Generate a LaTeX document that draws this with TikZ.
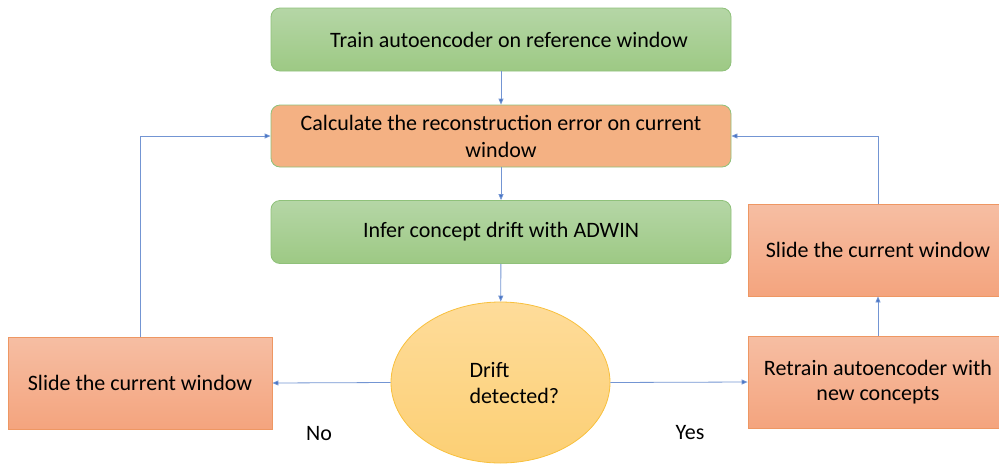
\documentclass[tikz,border=0pt]{standalone}
\usepackage{fontspec}
\setmainfont{Carlito}
\usetikzlibrary{shapes.geometric,arrows.meta}
\definecolor{greenTop}{HTML}{B5D6A6}
\definecolor{greenBot}{HTML}{9DC984}
\definecolor{greenLine}{HTML}{8FC17A}
\definecolor{calcFill}{HTML}{F4B183}
\definecolor{orangeTop}{HTML}{F6BEA3}
\definecolor{orangeBot}{HTML}{F4A47E}
\definecolor{orangeLine}{HTML}{EE9763}
\definecolor{ovalTop}{HTML}{FEDC9A}
\definecolor{ovalBot}{HTML}{FCCF74}
\definecolor{ovalLine}{HTML}{F8C03C}
\definecolor{flow}{HTML}{4472C4}
\tikzset{
  txt/.style={font=\fontsize{22}{27}\selectfont},
  greenbox/.style={txt, draw=greenLine, line width=0.8pt, rounded corners=9pt,
    top color=greenTop, bottom color=greenBot, minimum width=460pt,
    minimum height=63pt, align=center},
  calcbox/.style={txt, draw=greenLine, line width=0.8pt, rounded corners=9pt,
    fill=calcFill, minimum width=460pt, minimum height=62pt, align=center},
  orangebox/.style={font=\fontsize{22}{25.5}\selectfont, draw=orangeLine,
    line width=0.8pt, top color=orangeTop, bottom color=orangeBot,
    minimum height=92pt, align=center},
  oval/.style={ellipse, draw=ovalLine, line width=0.8pt, top color=ovalTop,
    bottom color=ovalBot, minimum width=219pt, minimum height=161pt},
  flowline/.style={draw=flow!75, line width=0.8pt,
    -{Triangle[length=6pt,width=5pt,fill=flow]}},
  lbl/.style={font=\fontsize{22}{26}\selectfont}
}
\begin{document}
\begin{tikzpicture}[x=1pt,y=-1pt]
\useasboundingbox (0,0) rectangle (999,464);
\begin{scope}
\clip (0,0) rectangle (999,464);
\node[greenbox] (train) at (501,39.5) {\hspace*{16pt}Train autoencoder on reference window};
\node[calcbox] (calc) at (501,136) {Calculate the reconstruction error on current\\window};
\node[greenbox] (infer) at (501,232) {Infer concept drift with ADWIN};
\node[oval] (drift) at (500.5,382.5) {};
\node[lbl, align=left, anchor=west] (dlabel) at (466,383) {Drift\\detected?};
\node[orangebox, minimum width=264pt] (slideL) at (140,383) {Slide the current window};
\node[orangebox, minimum width=260pt] (retrain) at (878,382) {Retrain autoencoder with\\new concepts};
\node[orangebox, minimum width=260pt] (slideR) at (878,250) {Slide the current window};
\end{scope}
\node[lbl] (no) at (319,434) {No};
\node[lbl] (yes) at (690,433) {Yes};
\coordinate (leftTurn) at (slideL.north |- calc.west);
\coordinate (rightTurn) at (slideR.north |- calc.east);
\draw[flowline] (train) -- (calc);
\draw[flowline] (calc) -- (infer);
\draw[flowline] (infer) -- (drift);
\draw[flowline] (drift.west) -- (slideL.east);
\draw[flowline] (drift.east) -- (retrain.west);
\draw[flowline] (retrain) -- (slideR);
\draw[flowline] (slideR.north) -- (rightTurn) -- (calc.east);
\draw[flowline] (slideL.north) -- (leftTurn) -- (calc.west);
\end{tikzpicture}
\end{document}
